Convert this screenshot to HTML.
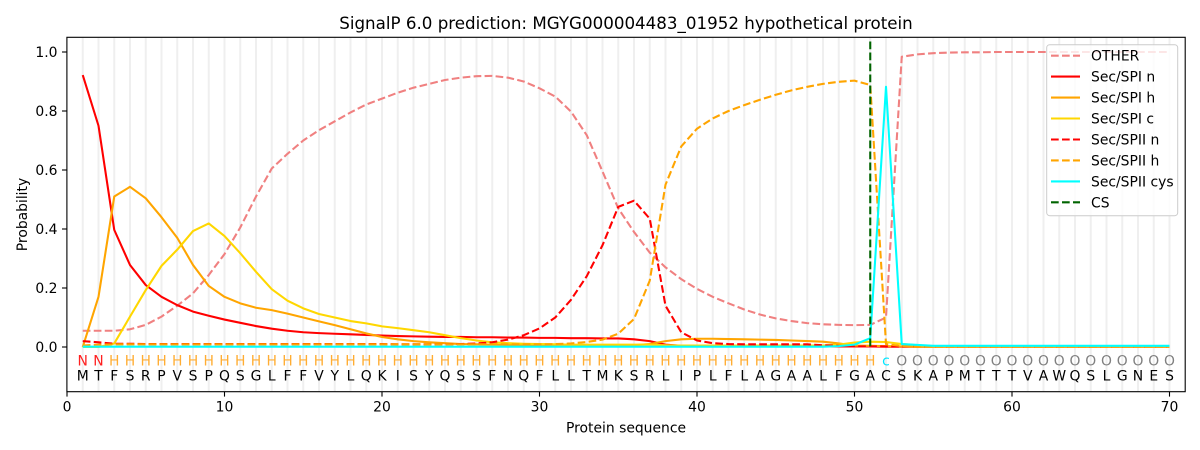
<!DOCTYPE html>
<html>
<head>
<meta charset="utf-8">
<style>
  html, body { margin: 0; padding: 0; background: #ffffff; }
  svg { display: block; }
  text { font-family: "DejaVu Sans", "Liberation Sans", sans-serif; }
</style>
</head>
<body>
<svg id="chart" width="1200" height="450" viewBox="0 0 1200 450" xmlns="http://www.w3.org/2000/svg">
  <rect x="0" y="0" width="1200" height="450" fill="#ffffff"/>
  <!-- grid -->
  <g id="grid" stroke="#efefef" stroke-width="2"></g>
  <!-- series -->
  <g id="series" fill="none" stroke-linejoin="round"></g>

  <!-- axes spines -->
  <rect x="66.9" y="37.3" width="1118.3" height="354.4" fill="none" stroke="#000" stroke-width="1.1"/>

  <!-- x ticks -->
  <g stroke="#000" stroke-width="1.1">
    <line x1="67" y1="391.7" x2="67" y2="396.6"/>
    <line x1="224.5" y1="391.7" x2="224.5" y2="396.6"/>
    <line x1="382" y1="391.7" x2="382" y2="396.6"/>
    <line x1="539.5" y1="391.7" x2="539.5" y2="396.6"/>
    <line x1="697" y1="391.7" x2="697" y2="396.6"/>
    <line x1="854.5" y1="391.7" x2="854.5" y2="396.6"/>
    <line x1="1012" y1="391.7" x2="1012" y2="396.6"/>
    <line x1="1169.5" y1="391.7" x2="1169.5" y2="396.6"/>
  </g>
  <g font-size="13.9" fill="#000" text-anchor="middle">
    <text x="67" y="411.5">0</text>
    <text x="224.5" y="411.5">10</text>
    <text x="382" y="411.5">20</text>
    <text x="539.5" y="411.5">30</text>
    <text x="697" y="411.5">40</text>
    <text x="854.5" y="411.5">50</text>
    <text x="1012" y="411.5">60</text>
    <text x="1169.5" y="411.5">70</text>
  </g>
  <!-- y ticks -->
  <g stroke="#000" stroke-width="1.1">
    <line x1="62" y1="347" x2="66.9" y2="347"/>
    <line x1="62" y1="288" x2="66.9" y2="288"/>
    <line x1="62" y1="229" x2="66.9" y2="229"/>
    <line x1="62" y1="170" x2="66.9" y2="170"/>
    <line x1="62" y1="111" x2="66.9" y2="111"/>
    <line x1="62" y1="52" x2="66.9" y2="52"/>
  </g>
  <g font-size="13.9" fill="#000" text-anchor="end">
    <text x="57.5" y="352">0.0</text>
    <text x="57.5" y="293">0.2</text>
    <text x="57.5" y="234">0.4</text>
    <text x="57.5" y="175">0.6</text>
    <text x="57.5" y="116">0.8</text>
    <text x="57.5" y="57">1.0</text>
  </g>

  <!-- axis labels and title -->
  <text x="626" y="432.5" font-size="13.9" text-anchor="middle" fill="#000">Protein sequence</text>
  <text transform="translate(27,214.5) rotate(-90)" font-size="13.9" text-anchor="middle" fill="#000">Probability</text>
  <text x="626" y="29" font-size="16.7" text-anchor="middle" fill="#000">SignalP 6.0 prediction: MGYG000004483_01952 hypothetical protein</text>

  <!-- annotation row -->
  <text y="365.7" font-size="13.9" text-anchor="middle"><tspan fill="#ff2020" x="82.75 98.5">NN</tspan><tspan fill="#ffad33" x="114.25 130 145.75 161.5 177.25 193 208.75 224.5 240.25 256 271.75 287.5 303.25 319 334.75 350.5 366.25 382 397.75 413.5 429.25 445 460.75 476.5 492.25 508 523.75 539.5 555.25 571 586.75 602.5 618.25 634 649.75 665.5 681.25 697 712.75 728.5 744.25 760 775.75 791.5 807.25 823 838.75 854.5 870.25">HHHHHHHHHHHHHHHHHHHHHHHHHHHHHHHHHHHHHHHHHHHHHHHHH</tspan><tspan fill="#00e5ff" x="886">c</tspan><tspan fill="#808080" x="901.75 917.5 933.25 949 964.75 980.5 996.25 1012 1027.75 1043.5 1059.25 1075 1090.75 1106.5 1122.25 1138 1153.75 1169.5">OOOOOOOOOOOOOOOOOO</tspan></text>

  <!-- sequence row -->
  <text y="380.7" font-size="13.9" text-anchor="middle" fill="#000" x="82.75 98.5 114.25 130 145.75 161.5 177.25 193 208.75 224.5 240.25 256 271.75 287.5 303.25 319 334.75 350.5 366.25 382 397.75 413.5 429.25 445 460.75 476.5 492.25 508 523.75 539.5 555.25 571 586.75 602.5 618.25 634 649.75 665.5 681.25 697 712.75 728.5 744.25 760 775.75 791.5 807.25 823 838.75 854.5 870.25 886 901.75 917.5 933.25 949 964.75 980.5 996.25 1012 1027.75 1043.5 1059.25 1075 1090.75 1106.5 1122.25 1138 1153.75 1169.5">MTFSRPVSPQSGLFFVYLQKISYQSSFNQFLLTMKSRLIPLFLAGAALFGACSKAPMTTTVAWQSLGNES</text>

  <!-- legend -->
  <g>
    <rect x="1046.7" y="44.7" width="131" height="171" rx="3" ry="3" fill="#ffffff" fill-opacity="0.8" stroke="#cccccc" stroke-width="1"/>
    <g stroke-width="2.08" fill="none">
      <line x1="1051" y1="55.7" x2="1080" y2="55.7" stroke="#f08080" stroke-dasharray="7.7 3.3"/>
      <line x1="1051" y1="76.6" x2="1080" y2="76.6" stroke="#ff0000"/>
      <line x1="1051" y1="97.6" x2="1080" y2="97.6" stroke="#ffa500"/>
      <line x1="1051" y1="118.5" x2="1080" y2="118.5" stroke="#ffd700"/>
      <line x1="1051" y1="139.5" x2="1080" y2="139.5" stroke="#ff0000" stroke-dasharray="7.7 3.3"/>
      <line x1="1051" y1="160.4" x2="1080" y2="160.4" stroke="#ffa500" stroke-dasharray="7.7 3.3"/>
      <line x1="1051" y1="181.4" x2="1080" y2="181.4" stroke="#00ffff"/>
      <line x1="1051" y1="202.3" x2="1080" y2="202.3" stroke="#006400" stroke-dasharray="7.7 3.3"/>
    </g>
    <g font-size="13.9" fill="#000">
      <text x="1091" y="60.7">OTHER</text>
      <text x="1091" y="81.6">Sec/SPI n</text>
      <text x="1091" y="102.6">Sec/SPI h</text>
      <text x="1091" y="123.5">Sec/SPI c</text>
      <text x="1091" y="144.5">Sec/SPII n</text>
      <text x="1091" y="165.4">Sec/SPII h</text>
      <text x="1091" y="186.4">Sec/SPII cys</text>
      <text x="1091" y="207.3">CS</text>
    </g>
  </g>
</svg>
<script>
(function(){
  var NS = "http://www.w3.org/2000/svg";
  function X(i){ return 67 + 15.75*i; }
  function Y(v){ return 347 - 295*v; }
  function rep(v,n){ var a=[]; for(var k=0;k<n;k++) a.push(v); return a; }
  var grid = document.getElementById("grid");
  for (var i=1;i<=70;i++){
    var l = document.createElementNS(NS,"line");
    l.setAttribute("x1",X(i)); l.setAttribute("x2",X(i));
    l.setAttribute("y1",37.8); l.setAttribute("y2",391.2);
    grid.appendChild(l);
  }
  var other = [0.055,0.055,0.055,0.06,0.075,0.103,0.14,0.182,0.244,0.315,0.405,0.51,0.605,0.655,0.70,0.735,0.765,0.795,0.822,0.842,0.862,0.879,0.892,0.905,0.913,0.918,0.919,0.913,0.90,0.877,0.849,0.798,0.718,0.595,0.47,0.39,0.32,0.27,0.23,0.197,0.17,0.148,0.127,0.11,0.097,0.088,0.081,0.077,0.075,0.074,0.075,0.10,0.984,0.992,0.996,0.998,0.999,0.999].concat(rep(1.0,12));
  var spin = [0.922,0.75,0.397,0.278,0.21,0.17,0.142,0.12,0.106,0.093,0.082,0.071,0.062,0.055,0.05,0.047,0.045,0.043,0.041,0.039,0.037,0.036,0.035,0.034,0.034,0.033,0.033,0.032,0.032,0.031,0.031,0.03,0.03,0.029,0.029,0.026,0.02,0.008,0.004,0.003].concat(rep(0.002,11), rep(0.001,19));
  var spih = [0,0.17,0.51,0.543,0.504,0.44,0.37,0.278,0.207,0.17,0.148,0.133,0.125,0.113,0.1,0.087,0.074,0.06,0.046,0.034,0.026,0.02,0.016,0.013,0.01,0.009,0.008,0.007].concat(rep(0.006,8), [0.01,0.02,0.026,0.028,0.028,0.027,0.026,0.025,0.024,0.022,0.02,0.018,0.012,0.005,0.004,0.003,0.002], rep(0.001,17));
  var spic = [0,0,0.012,0.103,0.193,0.275,0.33,0.393,0.419,0.376,0.318,0.255,0.196,0.157,0.131,0.112,0.1,0.088,0.08,0.07,0.064,0.057,0.05,0.04,0.03,0.022,0.016,0.013,0.011,0.01,0.009].concat(rep(0.008,6), [0.006], rep(0.005,10), [0.008,0.015,0.018,0.017,0.01,0.006], rep(0.003,16));
  var spiin = [0.02,0.016,0.011,0.011].concat(rep(0.01,16), rep(0.009,4), [0.01,0.012,0.016,0.025,0.04,0.063,0.1,0.16,0.24,0.345,0.475,0.496,0.435,0.14,0.05,0.022,0.013,0.01], rep(0.009,5), [0.006,0.004], rep(0.002,21));
  var spiih = [0.005,0.008].concat(rep(0.009,28), [0.01,0.012,0.017,0.025,0.045,0.095,0.225,0.55,0.68,0.74,0.775,0.8,0.82,0.838,0.855,0.87,0.882,0.892,0.899,0.903,0.888,0.01,0.003], rep(0.001,17));
  var cys = rep(0.001,48).concat([0.003,0.008,0.03,0.882,0.01,0.007], rep(0.004,16));
  var series = [
    [other, "#f08080", true],
    [spin, "#ff0000", false],
    [spih, "#ffa500", false],
    [spic, "#ffd700", false],
    [spiin, "#ff0000", true],
    [spiih, "#ffa500", true],
    [cys, "#00ffff", false]
  ];
  var g = document.getElementById("series");
  series.forEach(function(s){
    var d = "";
    for (var k=0;k<s[0].length;k++){
      d += (k===0?"M":"L") + X(k+1).toFixed(2) + "," + Y(s[0][k]).toFixed(2) + " ";
    }
    var p = document.createElementNS(NS,"path");
    p.setAttribute("d", d);
    p.setAttribute("stroke", s[1]);
    p.setAttribute("stroke-width", "2.08");
    if (s[2]) p.setAttribute("stroke-dasharray", "7.7 3.3");
    g.appendChild(p);
  });
  var cs = document.createElementNS(NS,"line");
  cs.setAttribute("x1", X(51)); cs.setAttribute("x2", X(51));
  cs.setAttribute("y1", 41.5); cs.setAttribute("y2", 347);
  cs.setAttribute("stroke", "#006400"); cs.setAttribute("stroke-width", "2.08");
  cs.setAttribute("stroke-dasharray", "7.7 3.3");
  g.appendChild(cs);
})();
</script>
</body>
</html>
